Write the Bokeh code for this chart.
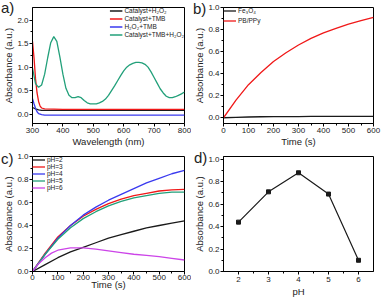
from bokeh.plotting import figure
from bokeh.models import Range1d, FixedTicker, NumeralTickFormatter, GridBox, Div
from bokeh.embed import file_html
from bokeh.resources import INLINE

FONT = "Liberation Sans"

# ---------------- Panel a data ----------------
wl_green = [300, 310, 320, 330, 340, 350, 360, 370, 380, 390, 400, 410, 420, 430, 440, 450,
            460, 470, 480, 490, 500, 510, 520, 530, 540, 550, 560, 570, 580, 590, 600, 610,
            620, 630, 640, 650, 660, 670, 680, 690, 700, 710, 720, 730, 740, 750, 760, 770,
            780, 790, 800]
abs_green = [0.98, 0.65, 0.57, 0.62, 0.85, 1.20, 1.52, 1.65, 1.55, 1.22, 0.85, 0.55, 0.40, 0.35,
             0.35, 0.37, 0.35, 0.29, 0.24, 0.22, 0.22, 0.22, 0.24, 0.27, 0.32, 0.40, 0.50, 0.60,
             0.71, 0.82, 0.92, 1.00, 1.05, 1.08, 1.10, 1.10, 1.09, 1.06, 1.00, 0.90, 0.78, 0.66,
             0.54, 0.45, 0.38, 0.35, 0.35, 0.37, 0.40, 0.43, 0.47]
wl_red = [300, 305, 310, 315, 320, 325, 330, 340, 400, 500, 600, 700, 800]
abs_red = [1.55, 1.20, 0.75, 0.45, 0.27, 0.17, 0.13, 0.11, 0.10, 0.10, 0.10, 0.10, 0.10]
wl_blue = [300, 305, 310, 315, 320, 330, 340, 400, 500, 600, 700, 800]
abs_blue = [0.33, 0.22, 0.12, 0.05, 0.01, -0.01, -0.02, -0.02, -0.02, -0.02, -0.02, -0.02]
wl_black = [300, 310, 320, 330, 400, 500, 600, 700, 800]
abs_black = [0.14, 0.11, 0.09, 0.08, 0.08, 0.08, 0.08, 0.08, 0.08]

# ---------------- Panel b data ----------------
t_b = [0, 50, 100, 150, 200, 250, 300, 350, 400, 450, 500, 550, 600]
pb_ppy = [0.0, 0.16, 0.30, 0.41, 0.51, 0.59, 0.66, 0.72, 0.77, 0.81, 0.85, 0.88, 0.91]
fe3o4 = [0.0, 0.004, 0.007, 0.009, 0.010, 0.011, 0.011, 0.012, 0.012, 0.012, 0.012, 0.012, 0.012]

# ---------------- Panel c data ----------------
t_c = [0, 50, 100, 150, 200, 250, 300, 350, 400, 450, 500, 550, 600]
ph2 = [0.0, 0.06, 0.12, 0.17, 0.21, 0.25, 0.29, 0.32, 0.35, 0.38, 0.40, 0.42, 0.44]
ph3 = [0.0, 0.16, 0.30, 0.40, 0.48, 0.54, 0.59, 0.63, 0.66, 0.68, 0.70, 0.71, 0.715]
ph4 = [0.0, 0.15, 0.29, 0.40, 0.49, 0.56, 0.62, 0.67, 0.72, 0.77, 0.81, 0.85, 0.88]
ph5 = [0.0, 0.15, 0.28, 0.38, 0.46, 0.52, 0.57, 0.61, 0.64, 0.66, 0.68, 0.69, 0.69]
t_c6 = [0, 25, 50, 75, 100, 150, 200, 250, 300, 350, 400, 450, 500, 550, 600]
ph6 = [0.0, 0.07, 0.12, 0.16, 0.185, 0.205, 0.205, 0.195, 0.18, 0.165, 0.15, 0.14, 0.13, 0.115, 0.10]

# ---------------- Panel d data ----------------
ph_vals = [2, 3, 4, 5, 6]
ph_abs = [0.44, 0.71, 0.88, 0.69, 0.10]

BLACK = "#1a1a1a"
RED = "#f01818"
BLUE = "#3a3aef"
GREEN = "#22a07a"
MAGENTA = "#cc44e8"
TXT = "#222222"


def make_fig(w, h, bl, br, bt, bb, xr, yr):
    p = figure(width=w, height=h, output_backend="svg", toolbar_location=None,
               x_range=Range1d(*xr), y_range=Range1d(*yr),
               min_border_left=bl, min_border_right=br, min_border_top=bt, min_border_bottom=bb)
    p.grid.visible = False
    p.outline_line_color = "black"
    p.outline_line_width = 1
    p.background_fill_color = "white"
    p.border_fill_color = "white"
    return p


def style(p, xlab, ylab, xticks, xminor, yticks, yminor, yfmt):
    p.xaxis[0].axis_label = xlab
    p.yaxis[0].axis_label = ylab
    p.xaxis[0].ticker = FixedTicker(ticks=xticks, minor_ticks=xminor)
    p.yaxis[0].ticker = FixedTicker(ticks=yticks, minor_ticks=yminor)
    p.yaxis[0].formatter = NumeralTickFormatter(format=yfmt)
    for ax in (p.xaxis[0], p.yaxis[0]):
        ax.axis_label_text_font = FONT
        ax.axis_label_text_font_size = "9.5px"
        ax.axis_label_text_font_style = "normal"
        ax.axis_label_text_color = TXT
        ax.axis_label_standoff = 0
        ax.major_label_text_font = FONT
        ax.major_label_text_font_size = "8px"
        ax.major_label_text_color = TXT
        ax.major_tick_out = 3
        ax.major_tick_in = 0
        ax.minor_tick_out = 2
        ax.minor_tick_in = 0
        ax.major_label_standoff = 1
        ax.axis_line_color = "black"
        ax.major_tick_line_color = "black"
        ax.minor_tick_line_color = "black"


def style_legend(p, loc, spacing, padding):
    lg = p.legend[0]
    lg.location = loc
    lg.label_text_font = FONT
    lg.label_text_font_size = "6.5px"
    lg.label_text_color = TXT
    lg.label_height = 7
    lg.glyph_height = 7
    lg.glyph_width = 13
    lg.label_standoff = 2
    lg.spacing = spacing
    lg.padding = padding
    lg.margin = 0
    lg.border_line_color = None
    lg.background_fill_alpha = 0


def letter(txt, left, top):
    return Div(text=txt, width=20, height=18, margin=(top, 0, 0, left),
               styles={"font-family": FONT, "font-size": "15px", "line-height": "15px",
                       "color": TXT, "z-index": "10"})


LW = 1.3
HT = 149
HB = 150
WL = 191
WR = 192

# Panel a
pa = make_fig(WL, HT, 29, 7, 7, 22, (300, 800), (-0.2, 2.27))
pa.line(wl_black, abs_black, color=BLACK, line_width=LW, legend_label="Catalyst+H\u2082O\u2082")
pa.line(wl_red, abs_red, color=RED, line_width=LW, legend_label="Catalyst+TMB")
pa.line(wl_blue, abs_blue, color=BLUE, line_width=LW, legend_label="H\u2082O\u2082+TMB")
pa.line(wl_green, abs_green, color=GREEN, line_width=LW, legend_label="Catalyst+TMB+H\u2082O\u2082")
style(pa, "Wavelength (nm)", "Absorbance (a.u.)", [300, 400, 500, 600, 700, 800],
      [350, 450, 550, 650, 750], [0.0, 0.5, 1.0, 1.5, 2.0], [0.25, 0.75, 1.25, 1.75], "0.0")
style_legend(pa, "top_right", 1, 4)

# Panel b
pb = make_fig(WR, HT, 31, 10, 4, 23, (0, 600), (-0.052, 1.0))
pb.line(t_b, fe3o4, color=BLACK, line_width=LW, legend_label="Fe\u2083O\u2084")
pb.line(t_b, pb_ppy, color=RED, line_width=LW, legend_label="PB/PPy")
style(pb, "Time (s)", "Absorbance (a.u.)", [0, 100, 200, 300, 400, 500, 600],
      [50, 150, 250, 350, 450, 550], [0.0, 0.2, 0.4, 0.6, 0.8, 1.0], [0.1, 0.3, 0.5, 0.7, 0.9], "0.0")
style_legend(pb, "top_left", 3, 6)

# Panel c
pc = make_fig(WL, HB, 30, 4, 7, 27, (0, 600), (0.0, 1.0))
pc.line(t_c, ph2, color=BLACK, line_width=LW, legend_label="pH=2")
pc.line(t_c, ph3, color=RED, line_width=LW, legend_label="pH=3")
pc.line(t_c, ph4, color=BLUE, line_width=LW, legend_label="pH=4")
pc.line(t_c, ph5, color=GREEN, line_width=LW, legend_label="pH=5")
pc.line(t_c6, ph6, color=MAGENTA, line_width=LW, legend_label="pH=6")
style(pc, "Time (s)", "Absorbance (a.u.)", [0, 100, 200, 300, 400, 500, 600],
      [50, 150, 250, 350, 450, 550], [0.0, 0.2, 0.4, 0.6, 0.8, 1.0], [0.1, 0.3, 0.5, 0.7, 0.9], "0.0")
pc.xaxis[0].major_label_standoff = 0
pc.xaxis[0].axis_label_standoff = -4
style_legend(pc, "top_left", 0, 4)

# Panel d
pd_ = make_fig(WR, HB, 31, 3, 6, 24, (1.5, 6.5), (0.0, 1.025))
pd_.line(ph_vals, ph_abs, color=BLACK, line_width=1.2)
pd_.scatter(ph_vals, ph_abs, marker="square", size=4, color=BLACK)
style(pd_, "pH", "Absorbance (a.u.)", [2, 3, 4, 5, 6], [2.5, 3.5, 4.5, 5.5],
      [0.0, 0.2, 0.4, 0.6, 0.8, 1.0], [0.1, 0.3, 0.5, 0.7, 0.9], "0.0")
pd_.xaxis[0].major_label_standoff = 2
pd_.xaxis[0].axis_label_standoff = 1

grid = GridBox(children=[
    (pa, 0, 0), (pb, 0, 1), (pc, 1, 0), (pd_, 1, 1),
    (letter("a)", 1, 0), 0, 0), (letter("b)", 2, 1), 0, 1),
    (letter("c)", 1, 2), 1, 0), (letter("d)", 3, 1), 1, 1),
], spacing=0)
open("out.html", "w").write(file_html(grid, INLINE))
